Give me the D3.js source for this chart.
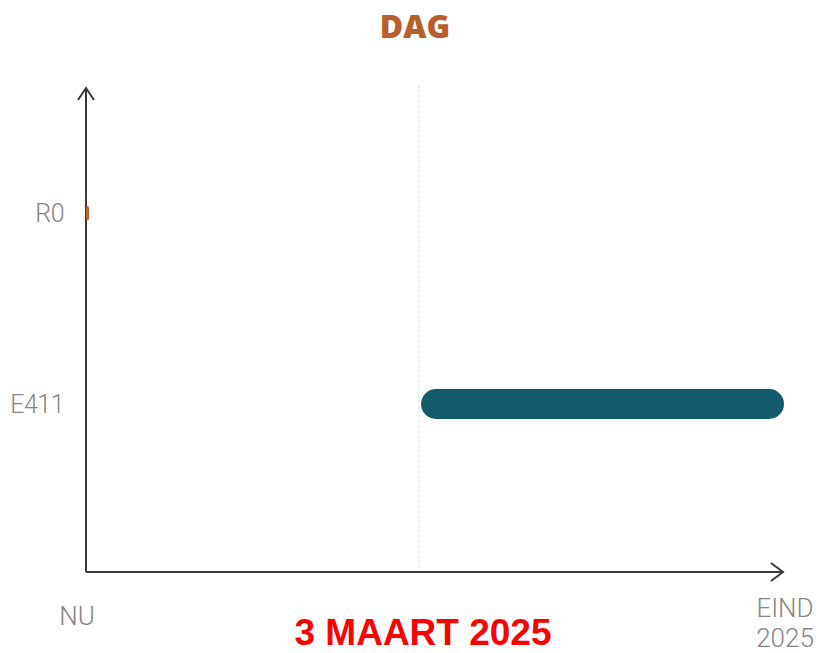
<!DOCTYPE html>
<html>
<head>
<meta charset="utf-8">
<script src="https://cdn.jsdelivr.net/npm/d3@7"></script>
<style>
  body { margin: 0; background: #fff; }
  svg { display: block; }
</style>
</head>
<body>
<svg id="chart"></svg>
<script>
// Chart data
const lanes = ["R0", "E411"];
const startValues = [0, 0.48];
const endValues = [0, 1];
const barColors = ["#c4622d", "#125b69"];
const markerValue = 0.477;
const markerLabel = "3 MAART 2025";
const xTickLabels = [["NU"], ["EIND", "2025"]];
const title = "DAG";

const width = 820;
const height = 653;

const svg = d3.select("#chart")
    .attr("width", width)
    .attr("height", height);

const x0 = 86, x1 = 784, yTop = 88, yBottom = 572;

const x = d3.scaleLinear().domain([0, 1]).range([x0, x1]);
const y = d3.scalePoint().domain(lanes).range([213, 404]);

const labelFont = "Roboto, sans-serif";
const labelColor = "#858585";

// Title
svg.append("text")
    .attr("x", 415)
    .attr("y", 38)
    .attr("text-anchor", "middle")
    .attr("font-family", "Open Sans, sans-serif")
    .attr("font-weight", 800)
    .attr("font-size", 32)
    .attr("fill", "#b85d2c")
    .text(title);

// Faint vertical marker line
svg.append("line")
    .attr("x1", x(markerValue)).attr("x2", x(markerValue))
    .attr("y1", 85).attr("y2", yBottom - 2)
    .attr("stroke", "#efefef")
    .attr("stroke-width", 2)
    .attr("stroke-dasharray", "3,2");

// Axes
const axisColor = "#3a3a3a";
svg.append("line")
    .attr("x1", x0).attr("x2", x0)
    .attr("y1", yTop).attr("y2", yBottom)
    .attr("stroke", axisColor).attr("stroke-width", 2);
svg.append("line")
    .attr("x1", x0).attr("x2", x1 - 1)
    .attr("y1", yBottom).attr("y2", yBottom)
    .attr("stroke", axisColor).attr("stroke-width", 2);

// Arrowheads
svg.append("path")
    .attr("d", `M${x0 - 8},${yTop + 12}L${x0},${yTop}L${x0 + 8},${yTop + 12}`)
    .attr("fill", "none").attr("stroke", axisColor).attr("stroke-width", 2);
svg.append("path")
    .attr("d", `M${x1 - 13},${yBottom - 9}L${x1 - 1},${yBottom}L${x1 - 13},${yBottom + 9}`)
    .attr("fill", "none").attr("stroke", axisColor).attr("stroke-width", 2);

// Lane labels
svg.selectAll(".lane-label")
    .data(lanes)
    .enter().append("text")
    .attr("class", "lane-label")
    .attr("x", 64)
    .attr("y", d => y(d))
    .attr("dy", "0.36em")
    .attr("text-anchor", "end")
    .attr("font-family", labelFont)
    .attr("font-weight", 300)
    .attr("font-size", 25)
    .attr("letter-spacing", -0.5)
    .attr("fill", labelColor)
    .text(d => d);

// Bars
const barH = 30;
svg.selectAll(".bar")
    .data(lanes)
    .enter().append("rect")
    .attr("class", "bar")
    .attr("x", (d, i) => x(startValues[i]))
    .attr("y", (d, i) => y(d) - (endValues[i] === startValues[i] ? 7 : barH / 2))
    .attr("width", (d, i) => Math.max(3, x(endValues[i]) - x(startValues[i])))
    .attr("height", (d, i) => endValues[i] === startValues[i] ? 14 : barH)
    .attr("rx", (d, i) => endValues[i] === startValues[i] ? 1.5 : barH / 2)
    .attr("fill", (d, i) => barColors[i]);

// X tick labels
const tickG = svg.selectAll(".x-label")
    .data(xTickLabels)
    .enter().append("text")
    .attr("class", "x-label")
    .attr("x", (d, i) => i === 0 ? 77 : 785)
    .attr("y", (d, i) => i === 0 ? 625 : 617)
    .attr("text-anchor", "middle")
    .attr("font-family", labelFont)
    .attr("font-weight", 300)
    .attr("font-size", 26)
    .attr("fill", labelColor);
tickG.selectAll("tspan")
    .data(d => d)
    .enter().append("tspan")
    .attr("x", function() { return d3.select(this.parentNode).attr("x"); })
    .attr("dy", (d, i) => i === 0 ? 0 : 30)
    .text(d => d);

// Marker date
svg.append("text")
    .attr("x", 423)
    .attr("y", 645)
    .attr("text-anchor", "middle")
    .attr("font-family", "Liberation Sans, Arial, sans-serif")
    .attr("font-weight", "bold")
    .attr("font-size", 37)
    .attr("fill", "#ff0000")
    .text(markerLabel);
</script>
</body>
</html>
